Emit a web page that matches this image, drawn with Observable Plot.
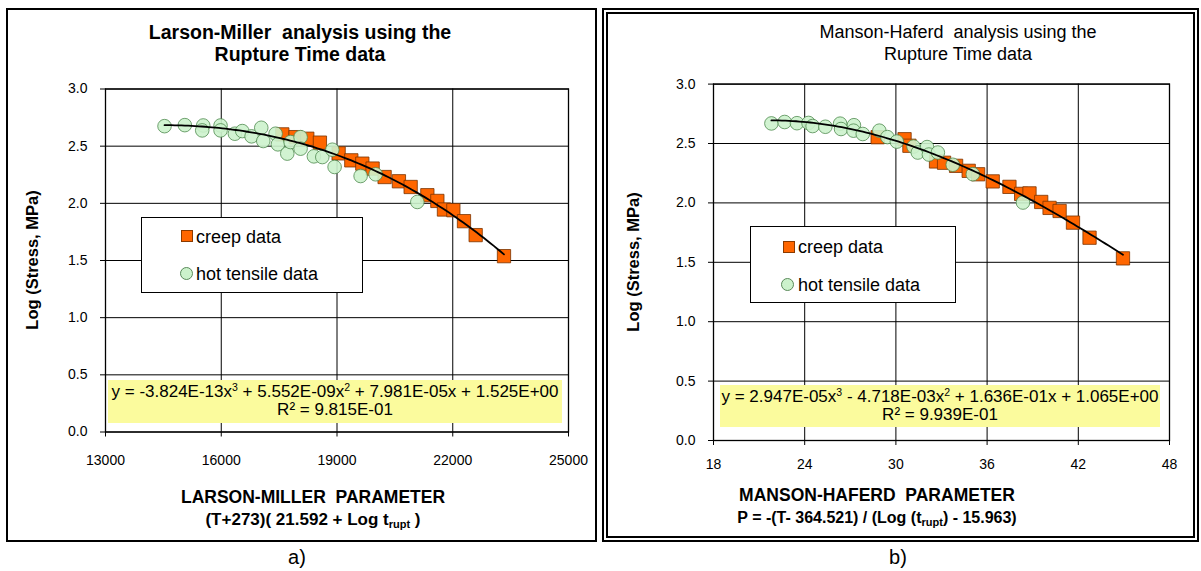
<!DOCTYPE html>
<html><head><meta charset="utf-8">
<script src="https://cdn.jsdelivr.net/npm/d3@7"></script>
<script src="https://cdn.jsdelivr.net/npm/@observablehq/plot@0.6"></script>
<style>
html,body{margin:0;padding:0;background:#fff;}
body{font-family:Arial,"Liberation Sans",sans-serif;color:#000;}
#root{position:relative;width:1201px;height:571px;overflow:hidden;background:#fff;}
.abs{position:absolute;}
.panelL{left:6px;top:8px;width:591px;height:534px;border:2px solid #000;box-sizing:border-box;}
.panelR{left:602px;top:8px;width:597px;height:534px;border:6px double #000;box-sizing:border-box;}
.title{font-weight:bold;font-size:19.5px;line-height:22px;text-align:center;white-space:nowrap;transform:translateX(-50%);}
.ytitle{font-weight:bold;font-size:16.5px;white-space:nowrap;transform:translate(-50%,-50%) rotate(-90deg);}
.xtitle{font-weight:bold;font-size:17.5px;line-height:22px;text-align:center;white-space:nowrap;transform:translateX(-50%);}
.xtitle .l2{font-size:17px;}
.xtitle sub{font-size:11px;vertical-align:-3px;line-height:0;}
.legend{background:#fff;border:1px solid #000;box-sizing:border-box;}
.legtxt{font-size:18px;white-space:nowrap;transform:translateY(-50%);}
.eq{background:#fbfb9d;font-size:17px;line-height:18.3px;text-align:center;white-space:nowrap;box-sizing:border-box;padding-top:3px;}
.eq sup{font-size:10.5px;vertical-align:6px;line-height:0;}
.lab{font-size:20px;transform:translate(-50%,-50%);}
</style>
</head><body>
<div id="root">
  <div class="abs panelL"></div>
  <div class="abs panelR"></div>
  <div id="plotL" class="abs" style="left:0;top:0"></div>
  <div id="plotR" class="abs" style="left:0;top:0"></div>

  <div class="abs title" style="left:300px;top:21px">Larson-Miller&nbsp; analysis using the<br>Rupture Time data</div>
  <div class="abs title" style="left:958px;top:21px;font-weight:normal;font-size:18px">Manson-Haferd&nbsp; analysis using the<br>Rupture Time data</div>

  <div class="abs ytitle" style="left:32px;top:260px">Log (Stress, MPa)</div>
  <div class="abs ytitle" style="left:633px;top:262px">Log (Stress, MPa)</div>

  <div class="abs xtitle" style="left:313px;top:486px">LARSON-MILLER&nbsp; PARAMETER<br><span class="l2">(T+273)( 21.592 + Log t<sub>rupt</sub> )</span></div>
  <div class="abs xtitle" style="left:877px;top:484px">MANSON-HAFERD&nbsp; PARAMETER<br><span class="l2" style="font-size:16px">P = -(T- 364.521) / (Log (t<sub>rupt</sub>) - 15.963)</span></div>

  <div class="abs legend" style="left:141px;top:217px;width:222px;height:76px"></div>
  <div class="abs" style="left:181px;top:230px;width:12px;height:12px;background:#ff6600;border:1px solid #8a3a00;box-sizing:border-box"></div>
  <div class="abs legtxt" style="left:196px;top:237px">creep data</div>
  <div class="abs" style="left:180px;top:267px;width:13px;height:13px;border-radius:50%;background:#ccf2cc;border:1px solid #5a8a5a;box-sizing:border-box"></div>
  <div class="abs legtxt" style="left:196px;top:274px">hot tensile data</div>

  <div class="abs legend" style="left:750px;top:226px;width:206px;height:77px"></div>
  <div class="abs" style="left:783px;top:241px;width:12px;height:12px;background:#ff6600;border:1px solid #8a3a00;box-sizing:border-box"></div>
  <div class="abs legtxt" style="left:798px;top:247px">creep data</div>
  <div class="abs" style="left:781px;top:278px;width:13px;height:13px;border-radius:50%;background:#ccf2cc;border:1px solid #5a8a5a;box-sizing:border-box"></div>
  <div class="abs legtxt" style="left:798px;top:285px">hot tensile data</div>

  <div class="abs eq" style="left:108px;top:380px;width:454px;height:43px">y = -3.824E-13x<sup>3</sup> + 5.552E-09x<sup>2</sup> + 7.981E-05x + 1.525E+00<br>R² = 9.815E-01</div>
  <div class="abs eq" style="left:720px;top:385px;width:440px;height:42px">y = 2.947E-05x<sup>3</sup> - 4.718E-03x<sup>2</sup> + 1.636E-01x + 1.065E+00<br>R² = 9.939E-01</div>

  <div class="abs lab" style="left:297px;top:557px">a)</div>
  <div class="abs lab" style="left:898px;top:557px">b)</div>
</div>
<script>
// ---- Data ----
const lmCreepX = [17582,17927,18230,18557,19042,19371,19656,19923,20234,20605,20909,21342,21601,21772,22016,22291,22594,23328];
const lmCreepY = [2.603,2.579,2.565,2.531,2.437,2.376,2.347,2.304,2.230,2.193,2.143,2.071,2.021,1.946,1.940,1.844,1.722,1.538];
const lmHotX = [14530,15056,15533,15507,15982,15982,16353,16545,16786,17037,17089,17408,17468,17711,17797,18056,18056,18401,18619,18878,18938,19612,20001,21082];
const lmHotY = [2.675,2.684,2.681,2.638,2.681,2.638,2.609,2.632,2.586,2.661,2.545,2.609,2.516,2.435,2.536,2.579,2.478,2.411,2.405,2.469,2.318,2.239,2.254,2.012];
const lmCoef = [-3.824e-13, 5.552e-09, 7.981e-05, 1.525];   // printed trendline coefficients
const lmTicksX = [13000,16000,19000,22000,25000];

const mhCreepX = [28.80,30.57,30.89,32.64,33.17,33.96,34.79,35.41,36.37,37.47,38.24,38.79,39.56,40.11,40.77,41.65,42.74,44.94];
const mhCreepY = [2.553,2.536,2.481,2.349,2.338,2.312,2.270,2.241,2.181,2.135,2.076,2.080,2.008,1.958,1.932,1.834,1.707,1.533];
const mhHotX = [21.81,22.68,23.49,24.25,24.52,25.36,26.33,26.39,27.24,27.21,27.82,28.91,29.44,30.06,31.16,31.44,32.05,32.17,32.76,33.74,35.06,38.36];
const mhHotY = [2.669,2.681,2.671,2.673,2.647,2.641,2.667,2.622,2.654,2.608,2.580,2.608,2.554,2.516,2.474,2.424,2.470,2.407,2.424,2.321,2.242,2.003];
const mhCoef = [2.947e-05, -4.718e-03, 1.636e-01, 1.065];
const mhTicksX = [18,24,30,36,42,48];

const yTicks = [0,0.5,1.0,1.5,2.0,2.5,3.0];

// ---- helpers ----
const zip = (xs, ys) => xs.map((x, i) => ({x, y: ys[i]}));
function trend(coef, xs) {
  const lo = d3.min(xs), hi = d3.max(xs);
  return d3.range(0, 101).map(i => {
    const x = lo + (hi - lo) * i / 100;
    return {x, y: ((coef[0] * x + coef[1]) * x + coef[2]) * x + coef[3]};
  });
}

function makePlot(opts) {
  const allX = opts.creepX.concat(opts.hotX);
  return Plot.plot({
    width: opts.width, height: 571,
    marginLeft: opts.ml, marginRight: opts.mr, marginTop: opts.mt, marginBottom: opts.mb,
    style: {fontFamily: 'Arial, "Liberation Sans", sans-serif', fontSize: "14px", background: "transparent", color: "#000", overflow: "visible"},
    x: {domain: opts.xdomain},
    y: {domain: [0, 3]},
    marks: [
      Plot.gridX(opts.ticksX, {stroke: "#000", strokeOpacity: 1, strokeWidth: 1}),
      Plot.gridY(yTicks, {stroke: "#000", strokeOpacity: 1, strokeWidth: 1}),
      Plot.frame({stroke: "#000", strokeWidth: 1.3}),
      Plot.axisX(opts.ticksX, {tickSize: 5, tickPadding: opts.xpad, label: null, tickFormat: d => String(d), fontSize: 14}),
      Plot.axisY(yTicks, {tickSize: 5, tickPadding: 13, label: null, tickFormat: d => d.toFixed(1), fontSize: 14}),
      Plot.dot(zip(opts.creepX, opts.creepY), {x: "x", y: "y", symbol: "square", r: 7.5, fill: "#ff6600", stroke: "#7a3300", strokeWidth: 0.8}),
      Plot.dot(zip(opts.hotX, opts.hotY), {x: "x", y: "y", r: 6.8, fill: "#ccf2cc", fillOpacity: 0.9, stroke: "#4f8a4f", strokeWidth: 0.8}),
      Plot.line(trend(opts.coef, allX), {x: "x", y: "y", stroke: "#000", strokeWidth: 1.8})
    ]
  });
}

const left = makePlot({
  width: 600, ml: 105, mr: 32, mt: 88.5, mb: 139.5,
  xdomain: [13000, 25000], ticksX: lmTicksX, xpad: 18,
  creepX: lmCreepX, creepY: lmCreepY, hotX: lmHotX, hotY: lmHotY, coef: lmCoef
});
const right = makePlot({
  width: 1201, ml: 713, mr: 32, mt: 83.6, mb: 131,
  xdomain: [18, 48], ticksX: mhTicksX, xpad: 14,
  creepX: mhCreepX, creepY: mhCreepY, hotX: mhHotX, hotY: mhHotY, coef: mhCoef
});
document.getElementById("plotL").appendChild(left);
document.getElementById("plotR").appendChild(right);
document.querySelectorAll("#root > .abs:not(#plotL):not(#plotR):not(.panelL):not(.panelR)").forEach(el => el.style.zIndex = 2);
</script>
</body></html>
